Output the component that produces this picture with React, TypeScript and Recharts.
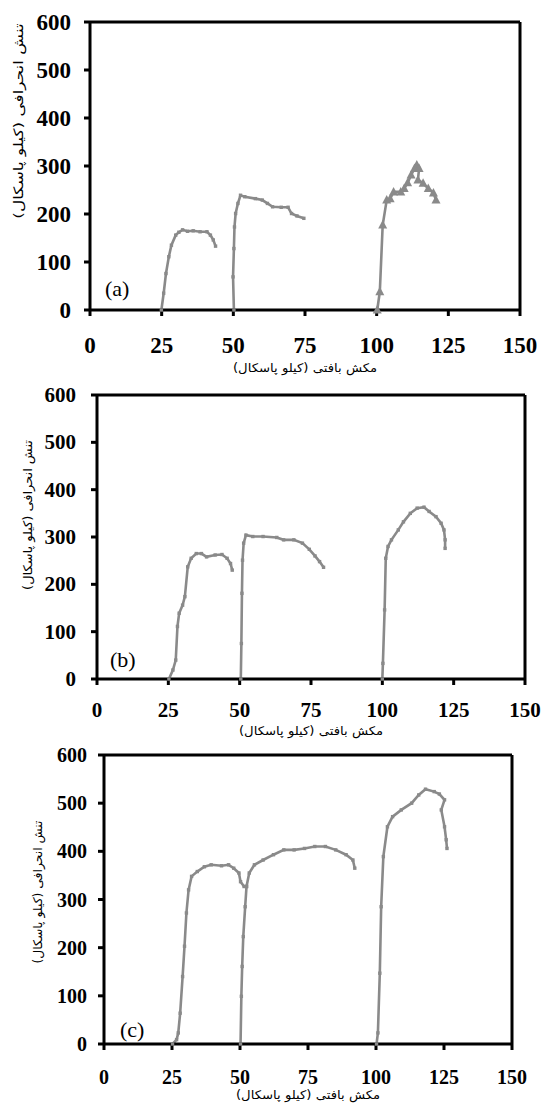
import React from "react";
import {
  LineChart,
  Line,
  XAxis,
  YAxis,
  ReferenceLine,
} from "recharts";

// matric suction (kPa) vs deviator stress (kPa), three tests per panel
const xTicks = [0, 25, 50, 75, 100, 125, 150];
const yTicks = [0, 100, 200, 300, 400, 500, 600];

const xTitle = "مکش بافتی (کیلو پاسکال)";
const yTitle = "تنش انحرافی (کیلو پاسکال)";

type Pt = { x: number; y: number };
const pts = (arr: number[][]): Pt[] => arr.map(([x, y]) => ({ x, y }));

// panel (a)
const a25 = pts([
  [24.9, 0], [25.7, 35], [26.5, 76], [27.5, 111], [28.4, 135], [29.9, 156],
  [31, 162], [32.3, 167], [34, 164], [36, 165], [38.4, 163], [40.8, 163],
  [42, 156], [43, 146], [43.8, 133],
]);
const a50 = pts([
  [50.2, 0], [49.9, 69], [50.2, 128], [50.4, 173], [50.8, 201], [51.6, 222],
  [52.5, 239], [54, 236], [57.7, 232], [60.1, 229], [61.9, 222], [63.7, 215],
  [66.7, 214], [69.1, 214], [70.3, 201], [72.2, 196], [74.6, 191],
]);
const a100 = pts([
  [100.2, 0], [101.1, 38], [102.1, 177], [103.5, 229], [104.7, 232],
  [105.9, 246], [108.4, 246], [109.6, 253], [110.8, 265], [112, 281],
  [113.2, 295], [114, 302], [114.8, 295], [114.4, 271], [116.2, 264],
  [118, 253], [119.8, 244], [120.7, 229],
]);

// panel (b)
const b25 = pts([
  [25.2, 0], [26.6, 19], [27.6, 40], [28.2, 111], [28.8, 139], [30, 156],
  [30.8, 174], [31.8, 237], [33, 255], [34.8, 265], [36.6, 265], [38.4, 258],
  [41.4, 262], [43.8, 263], [45.6, 255], [46.8, 244], [47.4, 230],
]);
const b50 = pts([
  [50.4, 0], [50.6, 75], [50.8, 181], [51, 251], [51.4, 287], [52.2, 304],
  [54.6, 301], [58.2, 301], [63, 299], [65.4, 294], [69, 294], [72, 287],
  [74.4, 274], [76.4, 260], [78, 248], [79.4, 236],
]);
const b100 = pts([
  [100, 0], [100.2, 33], [100.8, 146], [101.2, 255], [102, 280], [103.2, 294],
  [105.6, 315], [107.4, 332], [109.8, 350], [112.2, 361], [114.6, 363],
  [116.4, 354], [118.8, 343], [120.6, 329], [121.6, 315], [122, 294], [122, 276],
]);

// panel (c)
const c25 = pts([
  [25.2, 0], [26.7, 9], [27.3, 23], [28, 64], [28.9, 140], [29.6, 203],
  [30.3, 272], [31.1, 320], [32.2, 348], [34.3, 358], [36.9, 368], [39.4, 372],
  [43.2, 370], [45.8, 372], [47.7, 365], [49.6, 355], [50.2, 337], [51.5, 327],
  [52.4, 327],
]);
const c50 = pts([
  [50.2, 0], [50.5, 99], [50.8, 161], [51.2, 223], [51.9, 285], [52.4, 327],
  [53.4, 355], [55.3, 372], [58.5, 382], [62.3, 393], [66.1, 403], [69.9, 403],
  [73.7, 406], [77.5, 410], [81.4, 410], [85.2, 403], [89, 393], [91.5, 382],
  [92.2, 365],
]);
const c100 = pts([
  [100.2, 0], [100.7, 23], [101.4, 147], [101.9, 285], [102.7, 389],
  [104.2, 451], [106.1, 472], [109.3, 486], [113.1, 500], [115.7, 517],
  [118.2, 529], [121.4, 524], [123.3, 519], [125.2, 507], [124, 486],
  [125.2, 451], [125.8, 424], [126.1, 406],
]);

const GRAY = "#8a8a8a";
const SERIF = "'Liberation Serif', 'Times New Roman', serif";
const FA = "'DejaVu Sans', sans-serif";

const squareDot = (p: any) => (
  <rect key={p.index} x={p.cx - 1.7} y={p.cy - 1.7} width={3.4} height={3.4} fill={GRAY} />
);

const triangleDot = (p: any) => (
  <polygon
    key={p.index}
    points={`${p.cx},${p.cy - 5} ${p.cx - 4.5},${p.cy + 3.5} ${p.cx + 4.5},${p.cy + 3.5}`}
    fill={GRAY}
  />
);

const numTick = (size: number, anchor: "end" | "middle") => (p: any) => (
  <text
    x={p.x}
    y={p.y}
    textAnchor={anchor}
    dominantBaseline="central"
    fontFamily={SERIF}
    fontWeight={700}
    fontSize={size}
    fill="#000"
  >
    {p.payload.value}
  </text>
);

type PanelProps = {
  top: number;
  height: number;
  plotLeft: number;
  plotRight: number;
  plotTop: number;
  bottomPad: number;
  fontSize: number;
  yGap: number;
  xGap: number;
  tag: string;
  tagX: number;
  tagY: number;
  series: { data: Pt[]; marker: "square" | "triangle" }[];
  yTitleX: number;
  yTitleY: number;
  yTitleSize: number;
  yTitleStretch: number;
  xTitleY: number;
  xTitleSize: number;
  xTitleStretch: number;
};

function Panel(p: PanelProps) {
  const width = 542;
  return (
    <>
      <div style={{ position: "absolute", left: 0, top: p.top }}>
        <LineChart
          width={width}
          height={p.height}
          margin={{ top: p.plotTop, right: width - p.plotRight, left: 0, bottom: p.bottomPad }}
        >
          <XAxis
            dataKey="x"
            type="number"
            domain={[0, 150]}
            ticks={xTicks}
            allowDuplicatedCategory={false}
            height={50}
            axisLine={{ stroke: "#000", strokeWidth: 3 }}
            tickLine={{ stroke: "#000", strokeWidth: 3 }}
            tickSize={6}
            tickMargin={p.xGap - 6}
            tick={numTick(p.fontSize, "middle")}
            interval={0}
          />
          <YAxis
            type="number"
            domain={[0, 600]}
            ticks={yTicks}
            width={p.plotLeft}
            axisLine={{ stroke: "#000", strokeWidth: 3 }}
            tickLine={{ stroke: "#000", strokeWidth: 3 }}
            tickSize={6}
            tickMargin={p.yGap - 6}
            tick={numTick(p.fontSize, "end")}
            interval={0}
          />
          <ReferenceLine y={600} stroke="#000" strokeWidth={3} />
          <ReferenceLine x={150} stroke="#000" strokeWidth={3} />
          {p.series.map((s, i) => (
            <Line
              key={i}
              data={s.data}
              dataKey="y"
              type="linear"
              stroke={GRAY}
              strokeWidth={2.6}
              dot={s.marker === "triangle" ? triangleDot : squareDot}
              activeDot={false}
              isAnimationActive={false}
            />
          ))}
        </LineChart>
      </div>
      <div
        style={{
          position: "absolute",
          left: p.tagX,
          top: p.tagY,
          transform: "translateY(-50%)",
          fontFamily: SERIF,
          fontSize: 22,
          lineHeight: 1,
        }}
      >
        {p.tag}
      </div>
      <div
        style={{
          position: "absolute",
          left: p.yTitleX,
          top: p.yTitleY,
          transform: `translate(-50%, -50%) rotate(-90deg) scaleX(${p.yTitleStretch})`,
          fontFamily: FA,
          fontSize: p.yTitleSize,
          whiteSpace: "nowrap",
          direction: "rtl",
          lineHeight: 1,
        }}
      >
        {yTitle}
      </div>
      <div
        style={{
          position: "absolute",
          left: (p.plotLeft + p.plotRight) / 2,
          top: p.xTitleY,
          transform: `translate(-50%, -50%) scaleX(${p.xTitleStretch})`,
          fontFamily: FA,
          fontSize: p.xTitleSize,
          whiteSpace: "nowrap",
          direction: "rtl",
          lineHeight: 1,
        }}
      >
        {xTitle}
      </div>
    </>
  );
}

export default function App() {
  return (
    <div
      style={{
        position: "absolute",
        left: 0,
        top: 0,
        width: 542,
        height: 1104,
        background: "#fff",
        overflow: "hidden",
      }}
    >
      <Panel
        top={0}
        height={380}
        plotLeft={90}
        plotRight={520}
        plotTop={22}
        bottomPad={20}
        fontSize={23}
        yGap={19}
        xGap={35}
        tag="(a)"
        tagX={105}
        tagY={289}
        series={[
          { data: a25, marker: "square" },
          { data: a50, marker: "square" },
          { data: a100, marker: "triangle" },
        ]}
        yTitleX={18}
        yTitleY={121}
        yTitleSize={13}
        yTitleStretch={1.3}
        xTitleY={368}
        xTitleSize={12}
        xTitleStretch={1.1}
      />
      <Panel
        top={370}
        height={379}
        plotLeft={97}
        plotRight={525}
        plotTop={25}
        bottomPad={20}
        fontSize={21}
        yGap={21}
        xGap={31}
        tag="(b)"
        tagX={110}
        tagY={660}
        series={[
          { data: b25, marker: "square" },
          { data: b50, marker: "square" },
          { data: b100, marker: "square" },
        ]}
        yTitleX={28}
        yTitleY={515}
        yTitleSize={12}
        yTitleStretch={1.08}
        xTitleY={731}
        xTitleSize={12}
        xTitleStretch={1.1}
      />
      <Panel
        top={740}
        height={364}
        plotLeft={104}
        plotRight={512}
        plotTop={15}
        bottomPad={10}
        fontSize={20}
        yGap={17}
        xGap={33}
        tag="(c)"
        tagX={120}
        tagY={1030}
        series={[
          { data: c25, marker: "square" },
          { data: c50, marker: "square" },
          { data: c100, marker: "square" },
        ]}
        yTitleX={38}
        yTitleY={892}
        yTitleSize={12}
        yTitleStretch={1.03}
        xTitleY={1095}
        xTitleSize={12}
        xTitleStretch={1.1}
      />
    </div>
  );
}
